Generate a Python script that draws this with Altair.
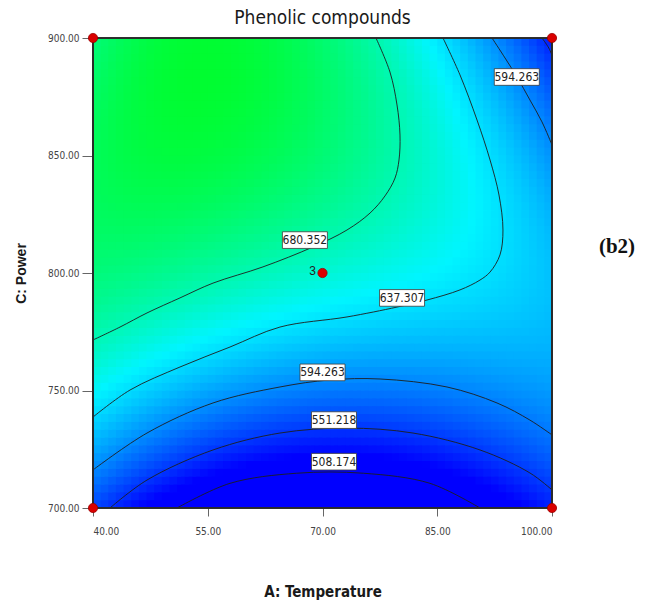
import numpy as np
import pandas as pd
import altair as alt

# ---- contour traces: Temperature (°C) and Power (W) along each labelled level ----
c508_T = [50.98, 57.91, 66.63, 75.33, 84.05, 90.59]
c508_P = [700.0, 710.5, 714.8, 714.8, 710.5, 700.0]

c551_T = [42.22, 47.06, 55.69, 64.44, 73.20, 81.83, 90.59, 97.12, 100.0]
c551_P = [700.0, 711.9, 724.7, 731.9, 734.0, 731.9, 724.7, 714.9, 707.7]

c551b_T = [98.69, 99.5, 100.0]
c551b_P = [900.0, 896.2, 892.8]

c594_T = [40.0, 47.06, 55.69, 64.44, 70.98, 77.52, 86.27, 92.81, 97.12, 100.0]
c594_P = [716.2, 731.9, 744.7, 751.5, 754.5, 754.9, 751.5, 744.7, 737.4, 731.1]

c594b_T = [92.16, 93.86, 95.42, 97.12, 98.69, 100.0]
c594b_P = [900.0, 891.5, 883.4, 873.6, 864.3, 854.5]

c637_T = [40.0, 44.84, 51.37, 57.91, 64.44, 73.20, 79.74, 83.66, 87.97, 90.59,
          91.90, 93.20, 93.59, 93.07, 91.90, 90.20, 87.97, 85.75]
c637_P = [738.7, 750.2, 760.0, 768.5, 777.0, 781.3, 785.5, 788.5, 792.8, 797.0,
          800.4, 807.7, 818.3, 833.2, 848.1, 865.1, 884.3, 900.0]

c680_T = [40.0, 43.53, 47.06, 51.37, 55.69, 62.22, 68.76, 73.20, 76.21, 78.17,
          79.48, 80.00, 80.13, 79.74, 78.82, 76.99]
c680_P = [771.5, 777.0, 783.0, 789.4, 795.7, 802.6, 811.1, 818.3, 825.5, 832.8,
          840.4, 848.1, 858.7, 871.5, 885.5, 900.0]

contours = [
    (508.174, c508_T, c508_P),
    (551.218, c551_T, c551_P),
    (551.218, c551b_T, c551b_P),
    (594.263, c594_T, c594_P),
    (594.263, c594b_T, c594b_P),
    (637.307, c637_T, c637_P),
    (680.352, c680_T, c680_P),
]

# ---- response estimates away from the contour lines ----
anchor_T = [40, 55, 65, 40, 70, 40, 100, 100, 100]
anchor_P = [900, 865, 900, 820, 700, 700, 700, 800, 900]
anchor_V = [702, 720, 712, 697, 470, 556, 535, 618, 538]

# ---- contour labels ----
lab_text = ["680.352", "637.307", "594.263", "594.263", "551.218", "508.174"]
lab_T = [67.7, 80.4, 70.0, 95.4, 71.5, 71.5]
lab_P = [814.0, 789.4, 757.7, 883.4, 737.4, 719.7]

# ---- design points ----
pts_T = [40, 40, 100, 100, 70]
pts_P = [700, 900, 700, 900, 800]
pts_rep = ["", "", "", "", "3"]

T_MIN, T_MAX = 40, 100
P_MIN, P_MAX = 700, 900
N_GRID = 60


def poly_terms(T, P):
    a = (np.asarray(T, float) - 70.0) / 30.0
    c = (np.asarray(P, float) - 800.0) / 100.0
    return np.column_stack([a ** i * c ** j for i in range(5) for j in range(5 - i)])


# response surface fitted through the contour traces and estimates
fit_T, fit_P, fit_V = list(anchor_T), list(anchor_P), list(anchor_V)
for lvl, ts, ps in contours:
    fit_T += ts
    fit_P += ps
    fit_V += [lvl] * len(ts)
coef, *_ = np.linalg.lstsq(poly_terms(fit_T, fit_P), np.array(fit_V), rcond=None)

t_edges = np.linspace(T_MIN, T_MAX, N_GRID + 1)
p_edges = np.linspace(P_MIN, P_MAX, N_GRID + 1)
dT = t_edges[1] - t_edges[0]
dP = p_edges[1] - p_edges[0]
tt0, pp0 = np.meshgrid(t_edges[:-1], p_edges[:-1])
tc, pc = tt0 + dT / 2, pp0 + dP / 2
zz = poly_terms(tc.ravel(), pc.ravel()) @ coef

# cells overlap their neighbours slightly so no seams show between them
heat_df = pd.DataFrame({
    "T0": tt0.ravel(), "T1": tt0.ravel() + dT * 1.5,
    "P0": pp0.ravel(), "P1": pp0.ravel() + dP * 1.5,
    "phenolic": zz,
})

line_rows = []
for k, (lvl, ts, ps) in enumerate(contours):
    for i, (t, p) in enumerate(zip(ts, ps)):
        line_rows.append({"T": t, "P": p, "seg": k, "ord": i, "level": lvl})
line_df = pd.DataFrame(line_rows)

lab_df = pd.DataFrame({"T": lab_T, "P": lab_P, "text": lab_text})
pts_df = pd.DataFrame({"T": pts_T, "P": pts_P, "rep": pts_rep})

AX_FONT = "DejaVu Sans Condensed, Liberation Sans, Arial"
LAB_FONT = "Liberation Sans, Arial"

x_scale = alt.Scale(domain=[T_MIN, T_MAX], nice=False, zero=False)
y_scale = alt.Scale(domain=[P_MIN, P_MAX], nice=False, zero=False)

x_axis = alt.Axis(
    title="A: Temperature", values=[40, 55, 70, 85, 100], format=".2f",
    labelFont=AX_FONT, labelFontSize=10, labelColor="#444444",
    tickColor="#666666", tickSize=8, labelPadding=10,
    domain=False, grid=False,
    titleFont=AX_FONT, titleFontSize=15, titleFontWeight="bold",
    titleColor="#1a1a1a", titlePadding=48,
)
y_axis = alt.Axis(
    title="C: Power", values=[700, 750, 800, 850, 900], format=".2f",
    labelFont=AX_FONT, labelFontSize=10, labelColor="#444444",
    tickColor="#666666", tickSize=11, labelPadding=3,
    domain=False, grid=False,
    titleFont="Liberation Sans, Arial", titleFontSize=14, titleFontWeight="bold",
    titleColor="#1a1a1a", titlePadding=19,
)

heat = alt.Chart(heat_df).mark_rect(strokeWidth=0, clip=True).encode(
    x=alt.X("T0:Q", scale=x_scale, axis=x_axis),
    x2="T1",
    y=alt.Y("P0:Q", scale=y_scale, axis=y_axis),
    y2="P1",
    color=alt.Color(
        "phenolic:Q",
        scale=alt.Scale(domain=[526, 649, 745],
                        range=["#0000ff", "#00f5ff", "#00ff00"],
                        interpolate="rgb", clamp=True),
        legend=None,
    ),
)

lines = alt.Chart(line_df).mark_line(
    color="#1e1e1e", strokeWidth=0.9, interpolate="catmull-rom", clip=True
).encode(
    x=alt.X("T:Q", scale=x_scale),
    y=alt.Y("P:Q", scale=y_scale),
    detail="seg:N",
    order="ord:Q",
)

boxes = alt.Chart(lab_df).mark_point(
    shape="M-1,-0.37L1,-0.37L1,0.37L-1,0.37Z", size=45 * 45,
    filled=True, fill="white", fillOpacity=1,
    stroke="#3a3a3a", strokeWidth=0.8, opacity=1,
).encode(x=alt.X("T:Q", scale=x_scale), y=alt.Y("P:Q", scale=y_scale))

labels = alt.Chart(lab_df).mark_text(
    font=AX_FONT, fontSize=12, color="#222222", baseline="middle", align="center"
).encode(x=alt.X("T:Q", scale=x_scale), y=alt.Y("P:Q", scale=y_scale), text="text:N")

frame = alt.Chart(pts_df).mark_rect(
    fill=None, stroke="#2a2a2a", strokeWidth=1.2
).encode(
    x=alt.datum(T_MIN, scale=x_scale), x2=alt.datum(T_MAX),
    y=alt.datum(P_MIN, scale=y_scale), y2=alt.datum(P_MAX),
)

points = alt.Chart(pts_df).mark_point(
    shape="circle", size=85, filled=True, fill="#d90000",
    stroke="#9a0000", strokeWidth=0.8, opacity=1, clip=False,
).encode(x=alt.X("T:Q", scale=x_scale), y=alt.Y("P:Q", scale=y_scale))

reps = alt.Chart(pts_df).mark_text(
    font=LAB_FONT, fontSize=12, color="#222222", dx=-10, dy=-2
).encode(x=alt.X("T:Q", scale=x_scale), y=alt.Y("P:Q", scale=y_scale), text="rep:N")

tag = alt.Chart(pts_df.head(1)).mark_text(
    text="(b2)", font="Liberation Serif, Times New Roman", fontSize=21,
    fontWeight="bold", color="#111111", align="center", baseline="middle"
).encode(x=alt.value(524), y=alt.value(209))

chart = alt.layer(heat, lines, frame, boxes, labels, points, reps, tag).properties(
    width=459,
    height=470,
    title=alt.TitleParams(
        "Phenolic compounds", fontSize=19, font="DejaVu Sans Condensed, Liberation Sans, Arial",
        fontWeight="normal", color="#1a1a1a", anchor="middle", offset=2,
    ),
    padding={"left": 93, "top": 38, "right": 94, "bottom": 100},
    autosize=alt.AutoSizeParams(type="none"),
).configure_view(stroke=None).configure(background="white")

chart.save("out.html", embed_options={"renderer": "svg", "actions": False})
